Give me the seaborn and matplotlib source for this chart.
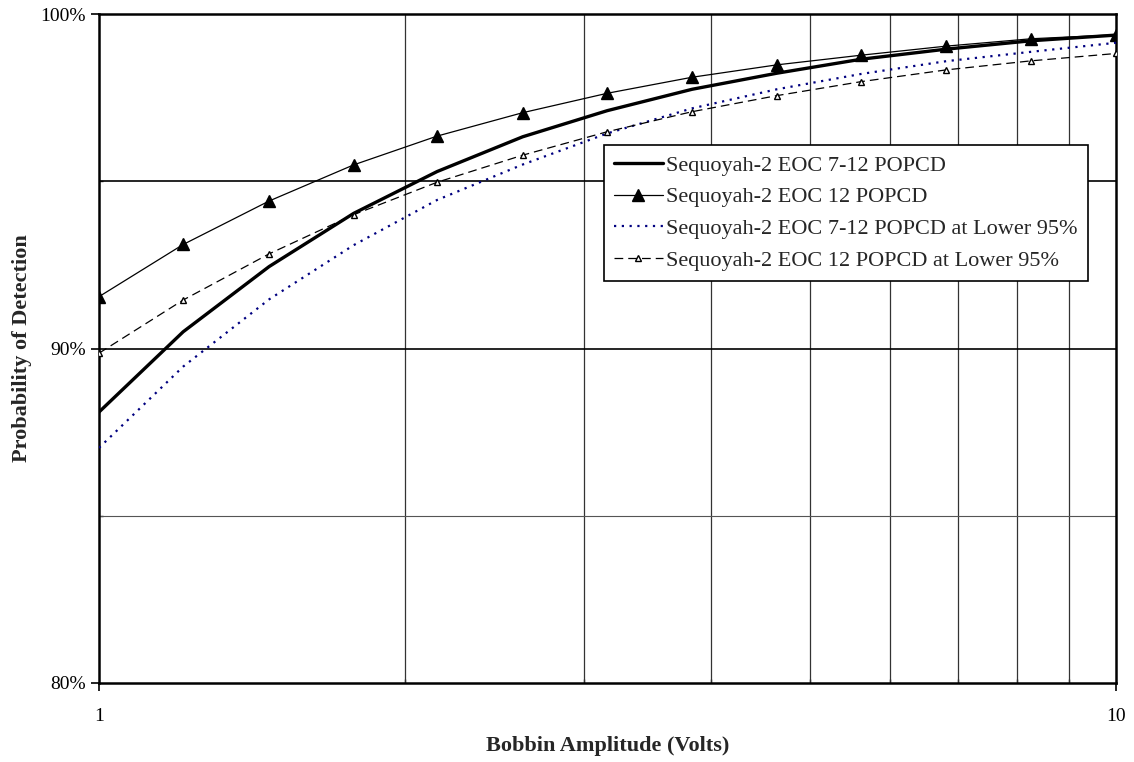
import matplotlib
matplotlib.use("Agg")
import matplotlib.pyplot as plt
import matplotlib.ticker as mticker
import numpy as np
import pandas as pd
import seaborn as sns

# amplitude points (volts) and POD values (%)
volts = [1.0, 1.21, 1.47, 1.78, 2.15, 2.61, 3.16, 3.83, 4.64, 5.62, 6.81, 8.25, 10.0]
pod_7_12 = [88.1, 90.5, 92.45, 94.04, 95.29, 96.33, 97.11, 97.75, 98.23, 98.65, 98.95, 99.2, 99.37]
pod_12 = [91.55, 93.11, 94.41, 95.49, 96.35, 97.05, 97.63, 98.11, 98.48, 98.77, 99.04, 99.26, 99.38]
pod_7_12_low = [87.03, 89.46, 91.47, 93.09, 94.44, 95.5, 96.43, 97.18, 97.75, 98.21, 98.59, 98.87, 99.14]
pod_12_low = [89.86, 91.45, 92.83, 94.0, 94.97, 95.78, 96.48, 97.08, 97.56, 97.98, 98.33, 98.6, 98.82]

labels = [
    "Sequoyah-2 EOC 7-12 POPCD",
    "Sequoyah-2 EOC 12 POPCD",
    "Sequoyah-2 EOC 7-12 POPCD at Lower 95%",
    "Sequoyah-2 EOC 12 POPCD at Lower 95%",
]

df = pd.concat([
    pd.DataFrame({"volts": volts, "pod": vals, "series": lab})
    for vals, lab in zip([pod_7_12, pod_12, pod_7_12_low, pod_12_low], labels)
])

sns.set_style("white")
plt.rcParams["font.family"] = ["Liberation Serif", "DejaVu Serif"]

fig = plt.figure(figsize=(11.34, 7.62), dpi=100)
ax = fig.add_axes([0.0873, 0.1037, 0.8968, 0.8779])

styles = {
    labels[0]: dict(color="black", lw=2.4, ls="-"),
    labels[1]: dict(color="black", lw=0.9, ls="-", marker="^", ms=8, mfc="black", mec="black"),
    labels[2]: dict(color="#000080", lw=1.6, ls=(0, (1, 2.5))),
    labels[3]: dict(color="black", lw=0.9, ls=(0, (7, 4)), marker="^", ms=5, mfc="white", mec="black", mew=1),
}

for lab in labels:
    sub = df[df["series"] == lab]
    st = styles[lab]
    sns.lineplot(data=sub, x="volts", y="pod", ax=ax, label=lab, color=st["color"],
                 linewidth=st["lw"], linestyle=st["ls"], marker=st.get("marker"),
                 markersize=st.get("ms", 0), markerfacecolor=st.get("mfc"),
                 markeredgecolor=st.get("mec"), markeredgewidth=st.get("mew", 1),
                 zorder=3, estimator=None, sort=False)

ax.set_xscale("log")
ax.set_xlim(1, 10)
ax.set_ylim(80, 100)

ax.xaxis.set_major_locator(mticker.FixedLocator([1, 10]))
ax.xaxis.set_major_formatter(mticker.FixedFormatter(["1", "10"]))
ax.xaxis.set_minor_locator(mticker.FixedLocator([2, 3, 4, 5, 6, 7, 8, 9]))
ax.xaxis.set_minor_formatter(mticker.NullFormatter())
ax.yaxis.set_major_locator(mticker.FixedLocator([80, 90, 100]))
ax.yaxis.set_major_formatter(mticker.FuncFormatter(lambda v, p: f"{v:.0f}%"))
ax.yaxis.set_minor_locator(mticker.FixedLocator([85, 95]))

# gridlines
for xv in [2, 3, 4, 5, 6, 7, 8, 9]:
    ax.axvline(xv, color="#333333", lw=0.9, zorder=1)
ax.axhline(95, color="black", lw=1.2, zorder=1)
ax.axhline(90, color="black", lw=1.2, zorder=1)
ax.axhline(85, color="#555555", lw=0.8, zorder=1)

for s in ax.spines.values():
    s.set_color("black")
    s.set_linewidth(1.8)

ax.tick_params(axis="both", which="major", direction="out", length=6, width=1.2,
               labelsize=14, colors="black", bottom=True, left=True)
ax.tick_params(axis="both", which="minor", direction="in", length=3, width=1, bottom=True, left=True)
ax.tick_params(axis="x", which="major", pad=12)

ax.set_xlabel("Bobbin Amplitude (Volts)", fontsize=16, fontweight="bold", labelpad=8)
ax.set_ylabel("Probability of Detection", fontsize=16, fontweight="bold", labelpad=6)

leg = ax.legend(loc="upper left", bbox_to_anchor=(0.4966, 0.804), fontsize=16,
                frameon=True, fancybox=False, edgecolor="black", framealpha=1,
                handlelength=2.2, handletextpad=0.15, labelspacing=0.5,
                borderpad=0.45, borderaxespad=0)
leg.get_frame().set_linewidth(1.2)

fig.savefig("out.png", dpi=100)
